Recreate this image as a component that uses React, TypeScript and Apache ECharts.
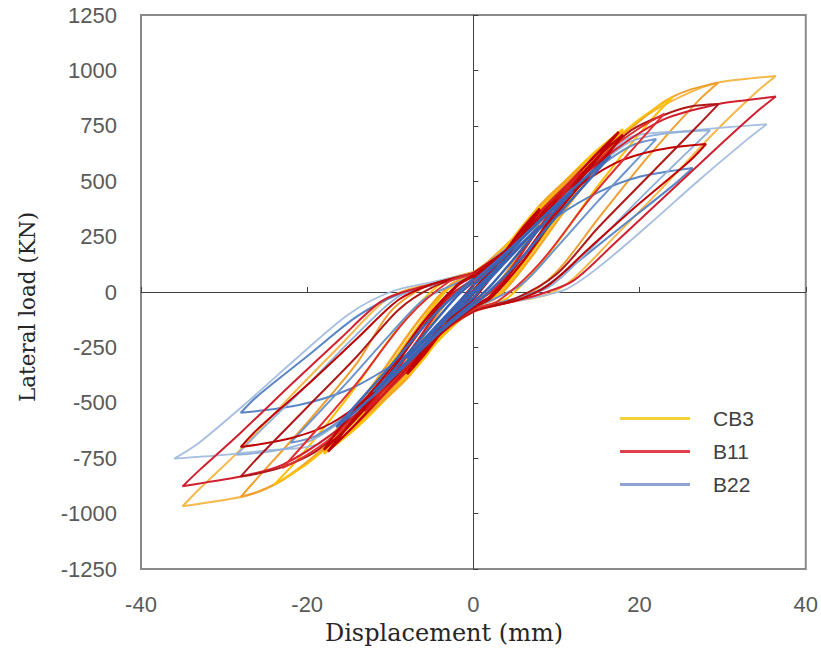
import React, { useEffect, useRef } from "react";
import * as echarts from "echarts";

// ---- axis ranges / ticks ----
const X_MIN = -40, X_MAX = 40, X_STEP = 20;
const Y_MIN = -1250, Y_MAX = 1250, Y_STEP = 250;
const SPECIMENS = ["CB3", "B11", "B22"];
const LEGEND_COLORS = ["#F2D13A", "#E0404C", "#8EA3D0"];

// ---- CB3 cycles (displacement mm, load kN) ----
const CB3_C1 = [[0,0],[2,95],[4,190],[3,140],[1,40],[0,-5],[-2,-95],[-4,-190],[-3,-140],[-1,-40],[0,5]];
const CB3_C2 = [[0,5],[3,150],[6,300],[8,385],[7,330],[4,170],[1,20],[0,-30],[-3,-150],[-6,-300],[-8,-380],[-7,-325],[-4,-165],[-1,-20],[0,30]];
const CB3_C3 = [[0,30],[4,200],[8,390],[13,565],[11,470],[7,260],[3,40],[0,-55],[-4,-200],[-8,-390],[-13,-560],[-11,-465],[-7,-255],[-3,-35],[0,55]];
const CB3_C4 = [[0,55],[4,210],[9,420],[14,610],[18,735],[16,640],[12,440],[7,180],[3,-10],[0,-70],[-4,-210],[-9,-420],[-14,-610],[-18,-730],[-16,-635],[-12,-435],[-7,-175],[-3,15],[0,75]];
const CB3_C5 = [[0,75],[5,250],[10,450],[15,640],[18.5,725],[16.5,630],[12,420],[7,160],[3,-20],[0,-75],[-5,-245],[-10,-445],[-15,-635],[-18.5,-722],[-16.5,-625],[-12,-415],[-7,-150],[-3,25],[0,80]];
const CB3_C6 = [[0,80],[4,200],[10,430],[16,650],[20,780],[24,880],[21,760],[15,480],[9,170],[4,-30],[0,-80],[-4,-195],[-10,-425],[-16,-645],[-20,-775],[-24,-870],[-21,-750],[-15,-470],[-9,-160],[-4,35],[0,85]];
const CB3_C7 = [[0,85],[4,195],[10,420],[15,610],[19,740],[23,860],[26,912],[29.5,945],[27,860],[21,610],[15,330],[10,90],[6,-20],[0,-85],[-4,-195],[-10,-420],[-15,-610],[-19,-740],[-23,-850],[-26,-902],[-28,-925],[-26,-840],[-20,-590],[-14,-320],[-10,-90],[-6,20],[0,90]];
const CB3_C8 = [[0,90],[5,230],[10,430],[16,640],[21,800],[26,900],[29.5,945],[33,962],[36.4,975],[34,900],[29,720],[23,480],[17,250],[12,60],[9,-10],[4,-50],[0,-90],[-5,-225],[-10,-425],[-16,-635],[-21,-795],[-25,-890],[-28,-925],[-32,-950],[-35,-967],[-33,-890],[-28,-710],[-22,-470],[-16,-240],[-11,-50],[-8,10],[0,80]];

// ---- B11 cycles ----
const B11_C1 = [[0,0],[2,90],[4,185],[3,135],[1,35],[0,-5],[-2,-90],[-4,-180],[-3,-130],[-1,-30],[0,5]];
const B11_C2 = [[0,5],[3,140],[6,290],[8,375],[7,320],[4,160],[1,15],[0,-30],[-3,-140],[-6,-285],[-8,-370],[-7,-315],[-4,-155],[-1,-15],[0,30]];
const B11_C3 = [[0,35],[4,180],[8,360],[13,545],[11,450],[7,240],[3,30],[0,-55],[-4,-180],[-8,-355],[-13,-540],[-11,-445],[-7,-235],[-3,-25],[0,55]];
const B11_C4 = [[0,55],[4,190],[9,390],[14,590],[17.5,722],[15.5,630],[11,420],[6,160],[2,-20],[0,-65],[-4,-190],[-9,-390],[-14,-590],[-17.5,-720],[-15.5,-625],[-11,-415],[-6,-155],[-2,25],[0,70]];
const B11_C5 = [[0,70],[5,220],[10,410],[15,610],[18,710],[16,615],[11,400],[6,140],[2,-30],[0,-70],[-5,-215],[-10,-405],[-15,-605],[-18,-712],[-16,-610],[-11,-395],[-6,-135],[-2,30],[0,75]];
const B11_C6 = [[0,75],[4,190],[10,420],[16,630],[20,740],[23,805],[20,680],[14,420],[8,130],[3,-40],[0,-80],[-4,-190],[-10,-415],[-16,-625],[-20,-735],[-23,-795],[-20,-670],[-14,-410],[-8,-120],[-3,45],[0,80]];
const B11_C7 = [[0,80],[4,190],[10,410],[15,590],[19,730],[23,800],[26,836],[29.5,848],[27,750],[21,520],[15,290],[10,80],[5,-30],[0,-85],[-4,-190],[-10,-410],[-15,-590],[-19,-720],[-23,-790],[-26,-820],[-28,-833],[-26,-750],[-20,-520],[-14,-290],[-9,-80],[-5,20],[0,85]];
const B11_C8 = [[0,85],[5,220],[11,430],[17,580],[22,640],[28,668],[26,590],[20,400],[14,200],[9,30],[5,-40],[0,-85],[-5,-215],[-11,-425],[-17,-590],[-22,-660],[-28,-700],[-26,-620],[-20,-420],[-14,-210],[-9,-35],[-5,35],[0,85]];
const B11_C9 = [[0,85],[5,220],[11,450],[17,640],[23,780],[29.5,848],[33,866],[36.4,882],[34,810],[29,640],[23,430],[17,220],[12,50],[8,-10],[4,-50],[0,-90],[-5,-220],[-11,-445],[-17,-640],[-23,-780],[-28,-833],[-32,-858],[-35,-877],[-33,-805],[-28,-635],[-22,-420],[-16,-210],[-11,-40],[-7,15],[0,80]];

// ---- B22 cycles ----
const B22_C1 = [[0,0],[2,75],[4,150],[3,110],[1,30],[0,-5],[-2,-75],[-4,-150],[-3,-110],[-1,-30],[0,5]];
const B22_C2 = [[0,5],[3,115],[6,225],[8,300],[7,260],[4,140],[1,20],[0,-25],[-3,-115],[-6,-225],[-8,-300],[-7,-255],[-4,-135],[-1,-15],[0,25]];
const B22_C3 = [[0,30],[4,170],[8,320],[12,455],[10,375],[6,200],[2,25],[0,-45],[-4,-170],[-8,-315],[-12,-450],[-10,-370],[-6,-195],[-2,-20],[0,45]];
const B22_C4 = [[0,50],[4,180],[9,360],[13,500],[16.5,615],[14.5,530],[10,340],[5,120],[1,-30],[0,-60],[-4,-180],[-9,-360],[-13,-500],[-16.5,-610],[-14.5,-525],[-10,-335],[-5,-115],[-1,30],[0,60]];
const B22_C5 = [[0,65],[5,210],[10,390],[15,560],[19,660],[22,690],[20,610],[15,410],[10,200],[6,40],[2,-40],[0,-70],[-5,-205],[-10,-385],[-15,-550],[-19,-650],[-22,-680],[-20,-600],[-15,-400],[-10,-190],[-6,-35],[-2,40],[0,70]];
const B22_C6 = [[0,80],[5,230],[10,400],[15,570],[19,680],[23,715],[28.5,730],[26,640],[20,420],[14,190],[9,20],[4,-40],[0,-80],[-5,-220],[-10,-390],[-15,-555],[-19,-660],[-23,-710],[-28.5,-735],[-26,-640],[-20,-420],[-14,-190],[-9,-20],[-4,40],[0,80]];
const B22_C7 = [[0,80],[5,200],[10,340],[15,450],[20,520],[26.4,560],[24,480],[18,300],[12,120],[8,10],[4,-40],[0,-80],[-5,-200],[-10,-335],[-15,-440],[-21,-510],[-28,-545],[-26,-470],[-20,-290],[-14,-110],[-9,-10],[-4,40],[0,80]];
const B22_C8 = [[0,80],[5,220],[10,400],[15,580],[19,700],[25,725],[30,742],[35.3,757],[33,690],[27,500],[21,300],[15,110],[11,10],[6,-35],[0,-80],[-5,-215],[-10,-395],[-15,-575],[-19,-690],[-25,-715],[-30,-735],[-36,-752],[-33,-680],[-27,-490],[-21,-290],[-15,-100],[-10,0],[-5,45],[0,85]];

type Cyc = { name: string; data: number[][]; color: string; width: number };

const CYCLES: Cyc[] = [
  { name: "CB3", data: CB3_C8, color: "#F5B84A", width: 2 },
  { name: "CB3", data: CB3_C7, color: "#F0A030", width: 2 },
  { name: "CB3", data: CB3_C6, color: "#FFC000", width: 2 },
  { name: "CB3", data: CB3_C5, color: "#F5A623", width: 2.5 },
  { name: "CB3", data: CB3_C4, color: "#FFC000", width: 2.5 },
  { name: "CB3", data: CB3_C3, color: "#F5A623", width: 2.5 },
  { name: "CB3", data: CB3_C2, color: "#FFC000", width: 3 },
  { name: "CB3", data: CB3_C1, color: "#FFC000", width: 3 },
  { name: "B22", data: B22_C8, color: "#A6BEDF", width: 1.8 },
  { name: "B22", data: B22_C7, color: "#5B86C6", width: 2 },
  { name: "B22", data: B22_C6, color: "#8FB0D8", width: 1.8 },
  { name: "B22", data: B22_C5, color: "#6E94CC", width: 2 },
  { name: "B11", data: B11_C9, color: "#D02030", width: 2 },
  { name: "B11", data: B11_C8, color: "#C00000", width: 2 },
  { name: "B11", data: B11_C7, color: "#B01818", width: 2 },
  { name: "B11", data: B11_C6, color: "#E03030", width: 2 },
  { name: "B11", data: B11_C5, color: "#C00000", width: 2.5 },
  { name: "B11", data: B11_C4, color: "#C00000", width: 2.5 },
  { name: "B11", data: B11_C3, color: "#D42020", width: 2.5 },
  { name: "B11", data: B11_C2, color: "#C00000", width: 3 },
  { name: "B11", data: B11_C1, color: "#C00000", width: 3 },
  { name: "B22", data: B22_C4, color: "#3F68B6", width: 2.5 },
  { name: "B22", data: B22_C3, color: "#3A62B2", width: 2.5 },
  { name: "B22", data: B22_C2, color: "#3A62B2", width: 2.5 },
  { name: "B22", data: B22_C1, color: "#3A62B2", width: 2.5 },
];

const SANS = "'Liberation Sans', Arial, sans-serif";
const SERIF = "'DejaVu Serif', 'Liberation Serif', serif";

export default function App() {
  const ref = useRef<HTMLDivElement>(null);
  useEffect(() => {
    if (!ref.current) return;
    const chart = echarts.init(ref.current, undefined, { renderer: "svg" });
    const tickLabel = { fontFamily: SANS, fontSize: 22, color: "#595959", formatter: (v: number) => String(v) };
    const zeroLine = { color: "#404040", width: 1 };
    chart.setOption({
      animation: false,
      backgroundColor: "#ffffff",
      grid: { left: 141, right: 15, top: 15, bottom: 84, show: true, borderColor: "#8a8a8a", borderWidth: 2, containLabel: false },
      xAxis: [
        { type: "value", min: X_MIN, max: X_MAX, interval: X_STEP, position: "bottom",
          axisLine: { show: false, onZero: false }, axisTick: { show: false }, splitLine: { show: false },
          axisLabel: { ...tickLabel, margin: 24 } },
        { type: "value", min: X_MIN, max: X_MAX, interval: X_STEP, position: "top",
          axisLine: { show: true, onZero: true, onZeroAxisIndex: 0, lineStyle: zeroLine },
          axisTick: { show: true, length: 5, lineStyle: zeroLine }, axisLabel: { show: false }, splitLine: { show: false } },
      ],
      yAxis: [
        { type: "value", min: Y_MIN, max: Y_MAX, interval: Y_STEP, position: "left",
          axisLine: { show: false, onZero: false }, axisTick: { show: false }, splitLine: { show: false },
          axisLabel: { ...tickLabel, margin: 24 } },
        { type: "value", min: Y_MIN, max: Y_MAX, interval: Y_STEP, position: "right",
          axisLine: { show: true, onZero: true, onZeroAxisIndex: 0, lineStyle: zeroLine },
          axisTick: { show: true, length: 5, lineStyle: zeroLine }, axisLabel: { show: false }, splitLine: { show: false } },
      ],
      legend: {
        orient: "vertical", left: 615, top: 403, itemWidth: 70, itemHeight: 3, itemGap: 12, icon: "rect",
        textStyle: { fontFamily: SANS, fontSize: 21, color: "#404040", padding: [0, 0, 0, 18] },
        data: SPECIMENS.map((n, i) => ({ name: n, icon: "rect", itemStyle: { color: LEGEND_COLORS[i] } })),
      },
      graphic: [
        { type: "text", x: 444, y: 633, style: { text: "Displacement (mm)", font: `24px ${SERIF}`, fill: "#262626", textAlign: "center", textVerticalAlign: "middle" } },
        { type: "text", x: 27, y: 307, rotation: Math.PI / 2, style: { text: "Lateral load (KN)", font: `21.5px ${SERIF}`, fill: "#262626", textAlign: "center", textVerticalAlign: "middle" } },
      ],
      series: CYCLES.map((c) => ({
        type: "line", name: c.name, data: c.data, xAxisIndex: 0, yAxisIndex: 0,
        showSymbol: false, symbol: "none", smooth: 0.3,
        lineStyle: { color: c.color, width: c.width }, itemStyle: { color: c.color },
        emphasis: { disabled: true },
      })),
    });
    return () => chart.dispose();
  }, []);
  return <div ref={ref} style={{ position: "fixed", left: 0, top: 0, width: 821, height: 653 }} />;
}
